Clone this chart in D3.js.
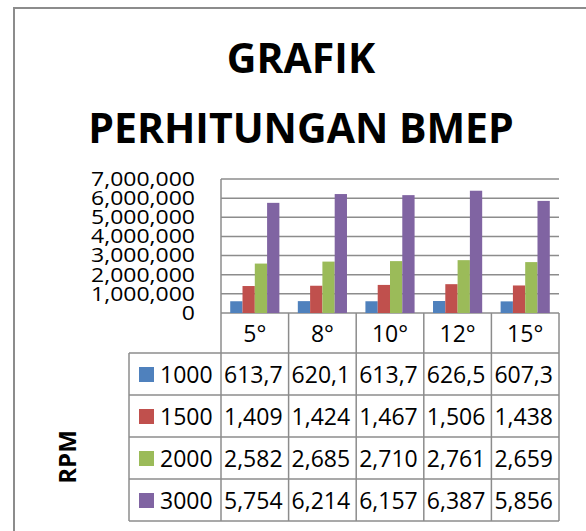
<!DOCTYPE html>
<html>
<head>
<meta charset="utf-8">
<script src="https://cdn.jsdelivr.net/npm/d3@7"></script>
<style>
	body { margin: 0; background: #fff; }
	svg { display: block; font-family: "Open Sans", sans-serif; }
</style>
</head>
<body>
<div id="chart"></div>
<script>
// data
var categories = ["5°", "8°", "10°", "12°", "15°"];
var series = ["1000", "1500", "2000", "3000"];
var values = [
	[613700, 620100, 613700, 626500, 607300],
	[1409000, 1424000, 1467000, 1506000, 1438000],
	[2582000, 2685000, 2710000, 2761000, 2659000],
	[5754000, 6214000, 6157000, 6387000, 5856000]
];
var yTicks = [0, 1000000, 2000000, 3000000, 4000000, 5000000, 6000000, 7000000];
var colours = ["#4f81bd", "#c0504d", "#9bbb59", "#8064a2"];

var width = 586, height = 531;
var plot = { left: 221, right: 559, top: 179, bottom: 313 };
var table = { left: 129, header: 353, rowH: 42 };
var lineGrey = "#8c8c8c";

var svg = d3.select("#chart").append("svg")
	.attr("width", width)
	.attr("height", height);

// outer frame (runs past the right/bottom edge)
svg.append("rect")
	.attr("x", 14)
	.attr("y", 8)
	.attr("width", 600)
	.attr("height", 560)
	.attr("fill", "#fff")
	.attr("stroke", lineGrey)
	.attr("stroke-width", 2);

// title
svg.selectAll("text.title")
	.data(["GRAFIK", "PERHITUNGAN BMEP"])
	.enter()
  .append("text")
	.attr("class", "title")
	.attr("x", 301)
	.attr("y", function (d, i) { return 73 + i * 70; })
	.attr("text-anchor", "middle")
	.attr("font-size", 41)
	.attr("font-weight", "bold")
	.text(function (d) { return d; });

var x0 = d3.scaleBand()
	.domain(categories)
	.range([plot.left, plot.right]);

var x1 = d3.scaleBand()
	.domain(series)
	.range([0, x0.bandwidth()])
	.paddingOuter(0.75);

var y = d3.scaleLinear()
	.domain([0, 7000000])
	.range([plot.bottom, plot.top]);

// gridlines
svg.append("g")
	.selectAll("line")
	.data(yTicks)
	.enter()
  .append("line")
	.attr("x1", plot.left)
	.attr("x2", plot.right)
	.attr("y1", function (d) { return y(d); })
	.attr("y2", function (d) { return y(d); })
	.attr("stroke", lineGrey)
	.attr("stroke-width", 1.5);

// y axis labels (narrow face stretched a little, like the original)
var yAxis = d3.axisLeft(y)
	.tickValues(yTicks)
	.tickFormat(d3.format(","))
	.tickSize(0)
	.tickPadding(22.6);

svg.append("g")
	.attr("transform", "translate(" + plot.left + ",0)")
	.call(yAxis)
	.call(function (g) { g.select(".domain").remove(); })
	.selectAll("text")
	.attr("font-family", "Open Sans, sans-serif")
	.attr("font-size", 20)
	.attr("fill", "#000")
	.attr("transform", "scale(1.15,1)");

// bars
var groups = svg.append("g")
	.selectAll("g")
	.data(series)
	.enter()
  .append("g")
	.attr("fill", function (d, i) { return colours[i]; });

groups.selectAll("rect")
	.data(function (s, si) {
		return categories.map(function (c, ci) {
			return { cat: c, s: s, v: values[si][ci] };
		});
	})
	.enter()
  .append("rect")
	.attr("x", function (d) { return x0(d.cat) + x1(d.s); })
	.attr("y", function (d) { return y(d.v); })
	.attr("width", x1.bandwidth())
	.attr("height", function (d) { return y(0) - y(d.v); });

// data table
var tableBottom = table.header + series.length * table.rowH;
var tg = svg.append("g")
	.attr("stroke", lineGrey)
	.attr("stroke-width", 1.5);

// vertical lines of category columns
tg.selectAll("line.col")
	.data(categories.concat(["end"]))
	.enter()
  .append("line")
	.attr("class", "col")
	.attr("x1", function (d) { return d === "end" ? plot.right : x0(d); })
	.attr("x2", function (d) { return d === "end" ? plot.right : x0(d); })
	.attr("y1", function (d, i) { return i === 0 ? plot.top : plot.bottom; })
	.attr("y2", tableBottom);

// left edge of legend column
tg.append("line")
	.attr("x1", table.left)
	.attr("x2", table.left)
	.attr("y1", table.header)
	.attr("y2", tableBottom);

// row lines
tg.selectAll("line.row")
	.data(d3.range(series.length + 1))
	.enter()
  .append("line")
	.attr("class", "row")
	.attr("x1", table.left)
	.attr("x2", plot.right)
	.attr("y1", function (d) { return table.header + d * table.rowH; })
	.attr("y2", function (d) { return table.header + d * table.rowH; });

// header labels
svg.selectAll("text.cat")
	.data(categories)
	.enter()
  .append("text")
	.attr("class", "cat")
	.attr("x", function (d) { return x0(d) + x0.bandwidth() / 2; })
	.attr("y", 342)
	.attr("text-anchor", "middle")
	.attr("font-size", 23)
	.text(function (d) { return d; });

// legend keys
svg.selectAll("rect.key")
	.data(series)
	.enter()
  .append("rect")
	.attr("class", "key")
	.attr("x", 139)
	.attr("y", function (d, i) { return table.header + i * table.rowH + 14; })
	.attr("width", 15)
	.attr("height", 15)
	.attr("fill", function (d, i) { return colours[i]; });

svg.selectAll("text.key")
	.data(series)
	.enter()
  .append("text")
	.attr("class", "key")
	.attr("x", 160)
	.attr("y", function (d, i) { return table.header + i * table.rowH + 30; })
	.attr("font-size", 23)
	.text(function (d) { return d; });

// cell values (the table column is too narrow, only the start shows)
var fmt = d3.format(",");
series.forEach(function (s, si) {
	svg.append("g")
		.selectAll("text")
		.data(values[si])
		.enter()
	  .append("text")
		.attr("x", function (d, ci) { return x0(categories[ci]) + 3; })
		.attr("y", table.header + si * table.rowH + 30)
		.attr("font-size", 23)
		.text(function (d) { return fmt(d).slice(0, 5); });
});

// RPM label
svg.append("text")
	.attr("transform", "translate(76,457) rotate(-90)")
	.attr("text-anchor", "middle")
	.attr("font-size", 24)
	.attr("font-weight", "bold")
	.text("RPM");
</script>
</body>
</html>
